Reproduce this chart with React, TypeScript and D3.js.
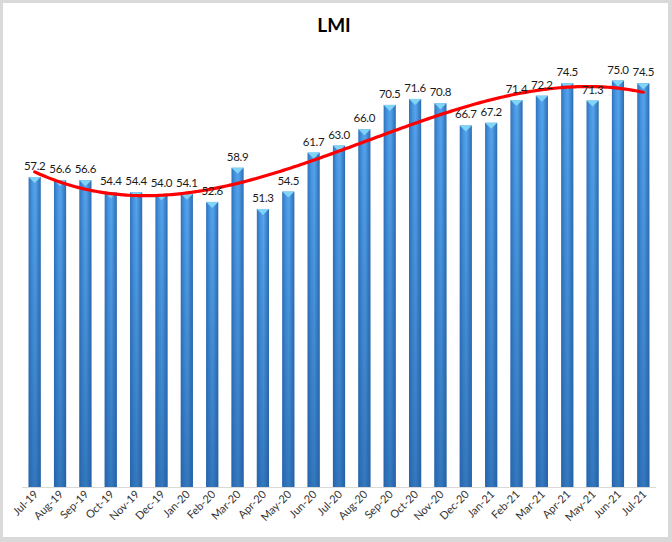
import React from "react";
import * as d3 from "d3";

const months = ["Jul-19","Aug-19","Sep-19","Oct-19","Nov-19","Dec-19","Jan-20","Feb-20","Mar-20","Apr-20","May-20","Jun-20","Jul-20","Aug-20","Sep-20","Oct-20","Nov-20","Dec-20","Jan-21","Feb-21","Mar-21","Apr-21","May-21","Jun-21","Jul-21"];
const values = [57.2,56.6,56.6,54.4,54.4,54.0,54.1,52.6,58.9,51.3,54.5,61.7,63.0,66.0,70.5,71.6,70.8,66.7,67.2,71.4,72.2,74.5,71.3,75.0,74.5];
const title = "LMI";
const trendOrder = 3;

const W = 672, H = 542;
const FONT = "Lato, 'Open Sans', sans-serif";

function polyFit(xs: number[], ys: number[], order: number): number[] {
  const n = order + 1;
  const A: number[][] = Array.from({ length: n }, () => new Array(n + 1).fill(0));
  for (let i = 0; i < xs.length; i++) {
    for (let r = 0; r < n; r++) {
      for (let c = 0; c < n; c++) A[r][c] += Math.pow(xs[i], r + c);
      A[r][n] += ys[i] * Math.pow(xs[i], r);
    }
  }
  for (let p = 0; p < n; p++) {
    let max = p;
    for (let r = p + 1; r < n; r++) if (Math.abs(A[r][p]) > Math.abs(A[max][p])) max = r;
    [A[p], A[max]] = [A[max], A[p]];
    for (let r = 0; r < n; r++) {
      if (r === p) continue;
      const f = A[r][p] / A[p][p];
      for (let c = p; c <= n; c++) A[r][c] -= f * A[p][c];
    }
  }
  return A.map((row, i) => row[n] / row[i]);
}

export default function App() {
  const x = d3.scaleBand<string>().domain(months).range([22, 656]).paddingInner(0.52).paddingOuter(0.26);
  const y = d3.scaleLinear().domain([0, 80]).range([487, 53.4]);
  const bw = x.bandwidth();

  const idx = months.map((_, i) => i + 1);
  const coef = polyFit(idx, values, trendOrder);
  const evalP = (t: number) => coef.reduce((s, c, k) => s + c * Math.pow(t, k), 0);
  const xIdx = d3.scaleLinear().domain([1, months.length]).range([x(months[0])! + bw / 2, x(months[months.length - 1])! + bw / 2]);
  const pts: [number, number][] = d3.range(1, months.length + 0.001, 0.1).map(t => [xIdx(t), y(evalP(t))]);
  const line = d3.line().curve(d3.curveLinear)(pts) || "";

  return (
    <svg width={W} height={H} style={{ display: "block", position: "absolute", left: 0, top: 0 }}>
      <defs>
        <linearGradient id="barH" x1="0" x2="1" y1="0" y2="0">
          <stop offset="0" stopColor="#2f72bb" />
          <stop offset="0.3" stopColor="#4896e2" />
          <stop offset="0.55" stopColor="#55a5ee" />
          <stop offset="1" stopColor="#2d6cb0" />
        </linearGradient>
        <linearGradient id="barV" x1="0" x2="0" y1="0" y2="1">
          <stop offset="0" stopColor="#1f5a9e" stopOpacity="0" />
          <stop offset="1" stopColor="#1f5a9e" stopOpacity="0.6" />
        </linearGradient>
      </defs>
      <rect x={0} y={0} width={W} height={H} fill="#d9d9d9" />
      <rect x={3} y={3} width={665} height={534} fill="#ffffff" />
      <text x={334} y={32} textAnchor="middle" fontFamily={FONT} fontWeight="bold" fontSize={19} fill="#000">{title}</text>
      <line x1={22} x2={656} y1={487.5} y2={487.5} stroke="#d9d9d9" strokeWidth={1} />
      {months.map((m, i) => {
        const bx = x(m)!;
        const by = y(values[i]);
        const h = y(0) - by;
        return (
          <g key={m}>
            <rect x={bx} y={by} width={bw} height={h} fill="url(#barH)" />
            <rect x={bx} y={by} width={bw} height={h} fill="url(#barV)" />
            <polygon points={`${bx},${by} ${bx + bw},${by} ${bx + bw - 2},${by + 2} ${bx + bw / 2},${by + 6} ${bx + 2},${by + 2}`} fill="#80d4f7" />
          </g>
        );
      })}
      <path d={line} fill="none" stroke="#ff0000" strokeWidth={3.2} strokeLinecap="round" />
      {months.map((m, i) => (
        <text key={"l" + m} x={x(m)! + bw / 2} y={y(values[i]) - 7} textAnchor="middle" fontFamily={FONT} fontSize={11.5} letterSpacing={-0.3} fill="#1a1a1a">{values[i].toFixed(1)}</text>
      ))}
      {months.map((m) => {
        const cx = x(m)! + bw / 2 + 4;
        const cy = 495;
        return (
          <text key={"t" + m} x={cx} y={cy} transform={`rotate(-45 ${cx} ${cy})`} textAnchor="end" fontFamily={FONT} fontSize={11} fill="#333">{m}</text>
        );
      })}
    </svg>
  );
}
